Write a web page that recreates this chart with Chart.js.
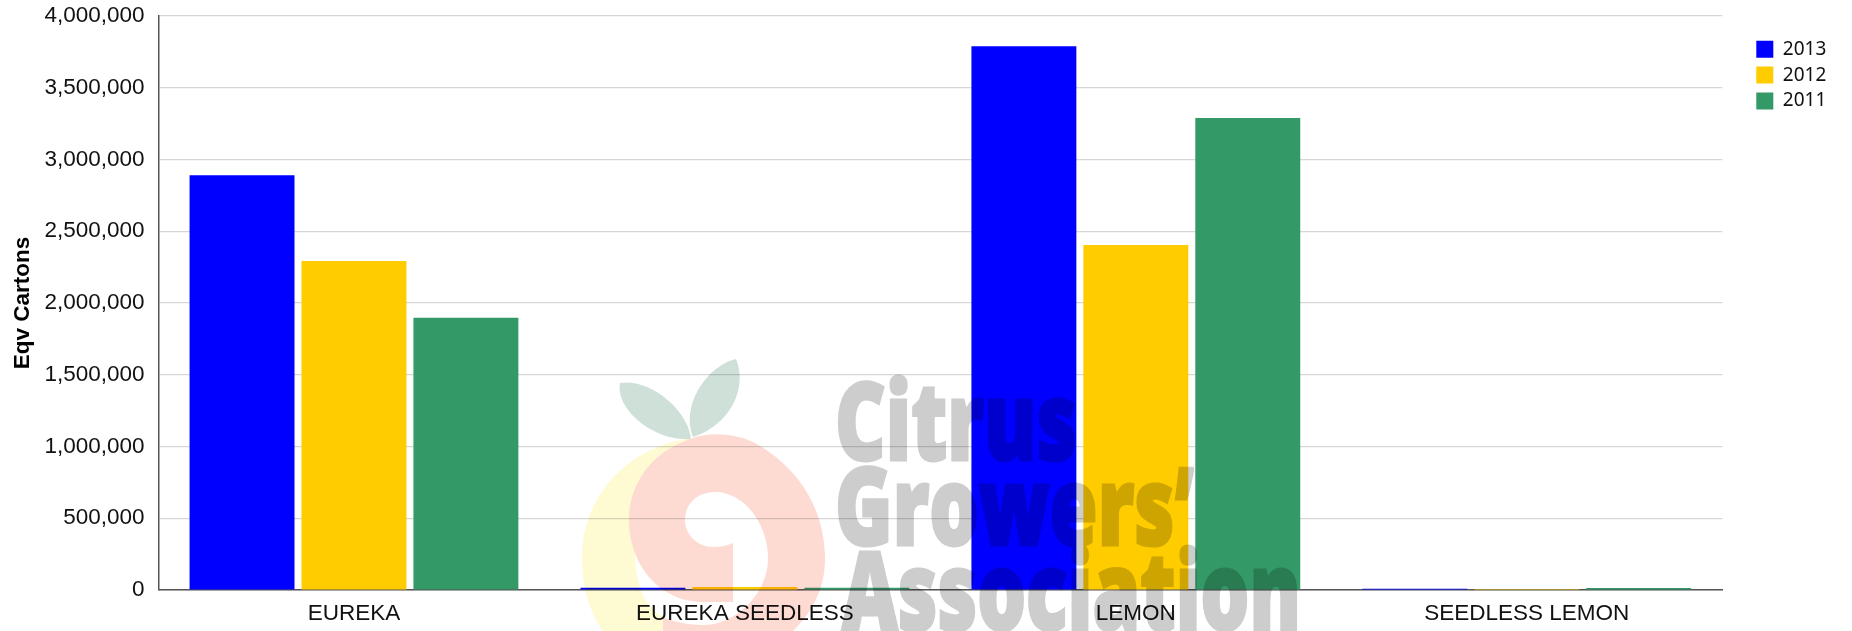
<!DOCTYPE html>
<html>
<head>
<meta charset="utf-8">
<title>Eqv Cartons by variety</title>
<script src="https://cdn.jsdelivr.net/npm/chart.js@4"></script>
<style>
  html, body { margin: 0; padding: 0; background: #fff; overflow: hidden; }
  #wrap { position: relative; width: 1852px; height: 631px; background: #fff; isolation: isolate; }
  #myChart { position: absolute; left: 0; top: 0; }
  #logo { position: absolute; left: 0; top: 0; mix-blend-mode: multiply; pointer-events: none; }
  #logo text { font-family: "Open Sans", "Noto Sans", sans-serif; font-weight: 800; font-size: 109px; fill: #cdcdcd; stroke: #cdcdcd; stroke-width: 3px; }
</style>
</head>
<body>
<div id="wrap">
  <canvas id="myChart" width="1852" height="631"></canvas>
  <svg id="logo" width="1852" height="631" viewBox="0 0 1852 631">
    <path fill="#fefbd3" d="M693,438 C630,445 582,495 582,557 C582,590 590,612 603,631 L663,631 L663,617 C648,608 635,590 635,553 Z"/>
    <path fill="#fddbd3" d="M693,438 C710,432 735,433 755,443 C800,468 825,510 825,560 C825,590 810,615 793,631 L663,631 L663,617 C673,622 690,625 703,625 C735,625 768,595 768,558 C768,525 745,492 715,492 C698,492 685,503 685,520 C685,535 698,547 713,547 C720,547 726,546 733,543 L733,602 L703,602 C660,602 629,565 629,520 C629,480 655,450 693,438 Z"/>
    <path fill="#cfe0d9" d="M620,383 C650,378 688,410 691,439 C655,442 615,410 620,383 Z"/>
    <path fill="#cfe0d9" d="M736,359 C748,388 730,425 693,437 C680,405 708,365 736,359 Z"/>
    <text x="835" y="460" textLength="242" lengthAdjust="spacingAndGlyphs">Citrus</text>
    <text x="835" y="545" textLength="359" lengthAdjust="spacingAndGlyphs">Growers’</text>
    <text x="842" y="630" textLength="459" lengthAdjust="spacingAndGlyphs">Association</text>
  </svg>
</div>
<script>
var categories = ['EUREKA', 'EUREKA SEEDLESS', 'LEMON', 'SEEDLESS LEMON'];
var values2013 = [2890000, 15000, 3790000, 8000];
var values2012 = [2293000, 21000, 2404000, 7000];
var values2011 = [1897000, 15000, 3289000, 14000];

// puts the legend where the original has it, the plot keeps its own width
var legendSpot = {
    id: 'legendSpot',
    afterLayout: function (chart) {
        chart.legend.left = 1749.5;
        chart.legend.right = 1852;
        chart.legend.top = 33;
        chart.legend.bottom = 631;
    }
};

var ctx = document.getElementById('myChart').getContext('2d');
var myChart = new Chart(ctx, {
    type: 'bar',
    data: {
        labels: categories,
        datasets: [
            { label: '2013', data: values2013, backgroundColor: '#0000ff' },
            { label: '2012', data: values2012, backgroundColor: '#ffcc00' },
            { label: '2011', data: values2011, backgroundColor: '#339966' }
        ]
    },
    options: {
        responsive: false,
        animation: false,
        barPercentage: 0.9375,
        categoryPercentage: 0.859,
        layout: { padding: { top: 0, right: 43, bottom: 0, left: 0 } },
        plugins: {
            tooltip: { enabled: false },
            legend: {
                position: 'right',
                align: 'start',
                labels: {
                    boxWidth: 17,
                    boxHeight: 17,
                    padding: 6.8,
                    color: '#111',
                    font: { family: '"Noto Sans"', size: 19 }
                }
            }
        },
        scales: {
            x: {
                afterFit: function (scale) { scale.height = 41; },
                grid: { display: false, drawTicks: false },
                border: { color: '#555', width: 1.5 },
                ticks: {
                    padding: 10.5,
                    color: '#111',
                    maxRotation: 0,
                    font: { family: '"Liberation Sans"', size: 22.5 }
                }
            },
            y: {
                min: 0,
                max: 4000000,
                afterFit: function (scale) {
                    scale.width = 158.5;
                    scale.paddingTop = 16;
                    scale.paddingBottom = 0;
                },
                title: {
                    display: true,
                    text: 'Eqv Cartons',
                    color: '#000',
                    padding: { top: 9, bottom: 0 },
                    font: { family: '"Liberation Sans"', size: 22.5, weight: 'bold' }
                },
                grid: { color: '#d6d6d6', lineWidth: 1.2, drawTicks: false },
                border: { color: '#555', width: 1.5 },
                ticks: {
                    stepSize: 500000,
                    padding: 14,
                    color: '#111',
                    font: { family: '"Liberation Sans"', size: 22.5 },
                    callback: function (v) { return v.toLocaleString('en-US'); }
                }
            }
        }
    },
    plugins: [legendSpot]
});
</script>
</body>
</html>
